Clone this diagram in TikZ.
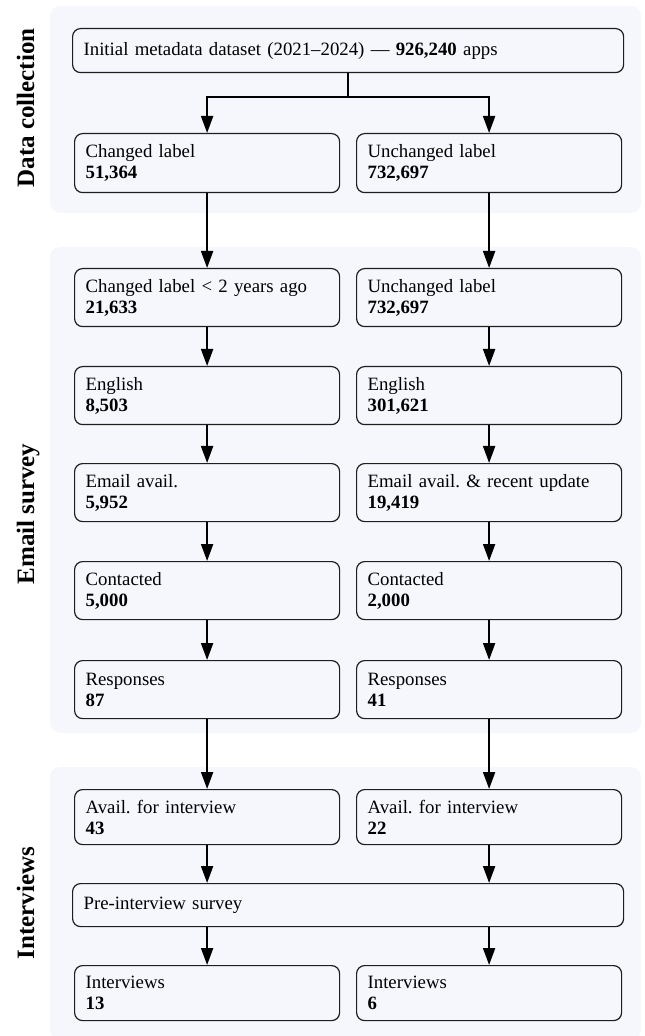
\documentclass[tikz,border=0pt]{standalone}
\usepackage{fontspec}
\setmainfont{Liberation Serif}
\usetikzlibrary{arrows.meta}
\definecolor{panelbg}{RGB}{246,247,253}
\definecolor{edgecol}{RGB}{30,30,30}
\tikzset{
  panelbox/.style={fill=panelbg, rounded corners=5pt},
  stagebox/.style={draw=edgecol, line width=0.6pt, rounded corners=4pt, anchor=north west,
    align=left, text width=121.5pt, inner xsep=5.5pt, inner ysep=0pt},
  widebox/.style={stagebox, text width=264.5pt},
  flowline/.style={line width=1pt, draw=black},
  flowarrow/.style={flowline, -{Triangle[length=8.5pt,width=6pt]}},
  stagelabel/.style={rotate=90, anchor=base, font=\fontsize{12.5}{14}\selectfont\bfseries}
}
\begin{document}
\begin{tikzpicture}[x=0.5pt,y=-0.5pt, font=\fontsize{9.4}{10.5}\selectfont]
\useasboundingbox (0,0) rectangle (644,1036);
% panels
\fill[panelbox] (50,6) rectangle (641,213);
\fill[panelbox] (50,247) rectangle (641,733);
\fill[panelbox] (50,767) rectangle (641,1040);
% stage labels
\node[stagelabel] (ldc) at (34,108) {Data collection};
\node[stagelabel] (les) at (34,514) {Email survey};
\node[stagelabel] (lin) at (34,903) {Interviews};
% data collection
\node[widebox, minimum height=22pt] (init) at (72,28) {Initial metadata dataset (2021–2024) — \textbf{926,240} apps};
\node[stagebox, minimum height=29.5pt] (l1) at (74,133) {Changed label\\\textbf{51,364}};
\node[stagebox, minimum height=29.5pt] (r1) at (356,133) {Unchanged label\\\textbf{732,697}};
% email survey
\node[stagebox, minimum height=29pt] (l2) at (74,268) {Changed label < 2 years ago\\\textbf{21,633}};
\node[stagebox, minimum height=29pt] (r2) at (356,268) {Unchanged label\\\textbf{732,697}};
\node[stagebox, minimum height=29pt] (l3) at (74,366) {English\\\textbf{8,503}};
\node[stagebox, minimum height=29pt] (r3) at (356,366) {English\\\textbf{301,621}};
\node[stagebox, minimum height=29pt] (l4) at (74,463) {Email avail.\\\textbf{5,952}};
\node[stagebox, minimum height=29pt] (r4) at (356,463) {Email avail.\ \& recent update\\\textbf{19,419}};
\node[stagebox, minimum height=29pt] (l5) at (74,561) {Contacted\\\textbf{5,000}};
\node[stagebox, minimum height=29pt] (r5) at (356,561) {Contacted\\\textbf{2,000}};
\node[stagebox, minimum height=29pt] (l6) at (74,660) {Responses\\\textbf{87}};
\node[stagebox, minimum height=29pt] (r6) at (356,660) {Responses\\\textbf{41}};
% interviews
\node[stagebox, minimum height=27.5pt] (l7) at (74,789) {Avail.\ for interview\\\textbf{43}};
\node[stagebox, minimum height=27.5pt] (r7) at (356,789) {Avail.\ for interview\\\textbf{22}};
\node[widebox, minimum height=21.5pt] (pre) at (72,883) {Pre-interview survey};
\node[stagebox, minimum height=27.5pt] (l8) at (74,965) {Interviews\\\textbf{13}};
\node[stagebox, minimum height=27.5pt] (r8) at (356,965) {Interviews\\\textbf{6}};
% connectors
\draw[flowline] (init.south) -- ++(0,24) coordinate (split);
\draw[flowarrow] (split) -| (l1.north);
\draw[flowarrow] (split) -| (r1.north);
\foreach \a/\b in {l1/l2,r1/r2,l2/l3,r2/r3,l3/l4,r3/r4,l4/l5,r4/r5,l5/l6,r5/r6,l6/l7,r6/r7}{
  \draw[flowarrow] (\a.south) -- (\b.north);
}
\draw[flowarrow] (l7.south) -- (l7.south |- pre.north);
\draw[flowarrow] (r7.south) -- (r7.south |- pre.north);
\draw[flowarrow] (l8.north |- pre.south) -- (l8.north);
\draw[flowarrow] (r8.north |- pre.south) -- (r8.north);
\end{tikzpicture}
\end{document}
